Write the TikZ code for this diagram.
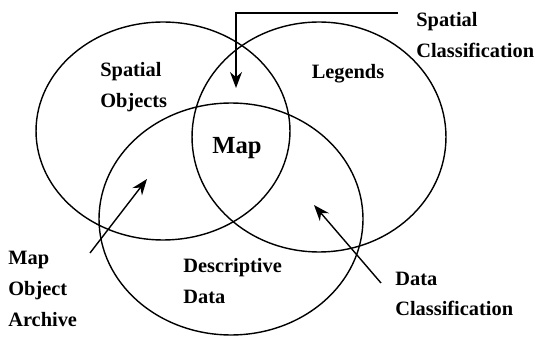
\documentclass[tikz,border=0pt]{standalone}
\usepackage{fontspec}
\setmainfont{Liberation Serif}
\usetikzlibrary{shapes.geometric, arrows.meta, positioning}

\begin{document}
\begin{tikzpicture}[
    x=0.02cm, y=-0.02cm,
    set/.style={ellipse, draw=black, line width=0.8pt, inner sep=0pt},
    lbl/.style={font=\fontsize{11.6}{17.5}\selectfont\bfseries, align=left, inner sep=0pt},
    arr/.style={-{Stealth[length=3.2mm, width=2.4mm]}, line width=0.8pt}
]
    \useasboundingbox (0,0) rectangle (536,337);

    % The three sets
    \node[set, minimum width=5.08cm, minimum height=4.36cm] (objects) at (163,131) {};
    \node[set, minimum width=5.08cm, minimum height=4.6cm] (legends) at (319,137) {};
    \node[set, minimum width=5.28cm, minimum height=4.64cm] (descr) at (231,219) {};

    % Labels inside
    \node[lbl, anchor=west] (objtxt) at (100,87) {Spatial\\Objects};
    \node[lbl] (legtxt) at (348,74) {Legends};
    \node[lbl] (destxt) [anchor=west] at (183,281) {Descriptive\\Data};
    \node[font=\fontsize{14}{16}\selectfont\bfseries, inner sep=0pt] (map) at (237,148) {Map};

    % Labels outside
    \node[lbl, anchor=west] (spcls) at (416,35) {Spatial\\Classification};
    \node[lbl, anchor=west] (archive) at (8,289) {Map\\Object\\Archive};
    \node[lbl, anchor=west] (dtcls) at (395,294) {Data\\Classification};

    % Arrows
    \coordinate (sc) at (398,13);
    \coordinate (scend) at (236,88);
    \draw[arr] (sc) -| (scend);
    \coordinate (ma) at (90,253);
    \coordinate (maend) at (147,179);
    \draw[arr] (ma) -- (maend);
    \coordinate (dc) at (381,283);
    \coordinate (dcend) at (314,205);
    \draw[arr] (dc) -- (dcend);
\end{tikzpicture}
\end{document}
